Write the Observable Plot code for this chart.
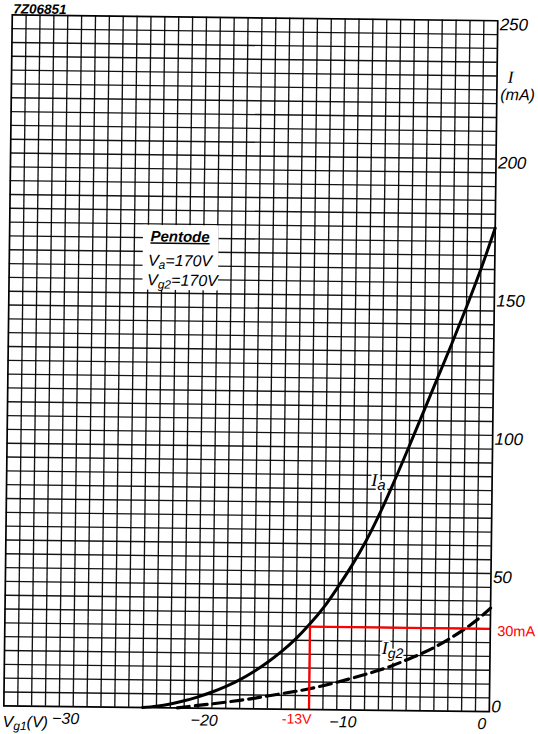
<!DOCTYPE html>
<html><head><meta charset="utf-8">
<script src="https://cdn.jsdelivr.net/npm/d3@7"></script>
<script src="https://cdn.jsdelivr.net/npm/@observablehq/plot@0.6"></script>
<style>
html,body{margin:0;padding:0;background:#fff;}
#chart svg{display:block;}
</style>
</head><body><div id="chart"></div>
<script>
// Anode current Ia (mA) vs grid-1 voltage Vg1 (V)
const vg1Ia = [-25,-24,-23,-22,-21,-20,-19,-18,-17,-16,-15,-14,-13,-12,-11,-10,-9,-8,-7,-6,-5,-4,-3,-2,-1,0];
const ia    = [0,0.55,1.4,2.6,4.1,5.9,8,10.5,13.5,17,21,25.6,31,37.2,44.6,52.6,61.6,72,83.6,95.8,108.3,120.8,133.3,146.3,160,175];
// Screen-grid current Ig2 (mA)
const vg1Ig2 = [-22.5,-21,-20,-19,-18,-17,-16,-15,-14,-13,-12,-11,-10,-9,-8,-7,-6,-5,-4,-3,-2,-1,0];
const ig2    = [0,1,1.6,2.3,3.0,3.8,4.7,5.6,6.5,7.5,8.7,10,11.4,12.9,14.5,16.3,18.4,20.6,23.1,26,29.3,33,37.5];
// axes
const xTicks = [-30,-20,-10,0];
const yTicks = [50,100,150,200,250];
const xDomain = [-35,0];
const yDomain = [0,250];
const gridV = d3.range(-34,0,1);
const gridI = d3.range(5,250,5);
// annotations
const chartId = ["7Z06851"];
const marker = [{v:-13, i:30}];
const curveLabels = [{t:"Ia", v:-8.19, i:83.1}, {t:"Ig2", v:-7.03, i:22.4}];
const legendBox = [{x1:-25.35, x2:-19.9, y1:151, y2:174.5}];
const legendTitle = [{t:"Pentode", v:-24.84, i:170.4}];
const legendLines = [{t:"Va=170V", v:-25.0, i:161.7}, {t:"Vg2=170V", v:-25.05, i:154.6}];
const unitLabels = [{t:"I", i:229.6}];
const unitLabels2 = [{t:"(mA)", i:223.2}];

const ia_rows = vg1Ia.map((v,k)=>({v, i: ia[k]}));
const ig2_rows = vg1Ig2.map((v,k)=>({v, i: ig2[k]}));
const RED = "#ff0000";
const SANS = "Liberation Sans, Arial, sans-serif";
const SERIF = "Liberation Serif, Times New Roman, serif";

const svg = Plot.plot({
  width: 538, height: 734,
  marginLeft: 7.5, marginRight: 45, marginTop: 17.5, marginBottom: 25.5,
  style: {fontFamily: SANS, background: "#fff", color: "#000", overflow: "visible"},
  x: {domain: xDomain},
  y: {domain: yDomain},
  marks: [
    Plot.gridX({ticks: gridV, stroke: "#000", strokeOpacity: 0.92, strokeWidth: 1.35}),
    Plot.gridY({ticks: gridI, stroke: "#000", strokeOpacity: 0.92, strokeWidth: 1.35}),
    Plot.rect(legendBox, {x1:"x1", x2:"x2", y1:"y1", y2:"y2", fill:"#fff"}),
    Plot.line(ia_rows, {x:"v", y:"i", stroke:"#000", strokeWidth:3, curve:"catmull-rom"}),
    Plot.line(ig2_rows, {x:"v", y:"i", stroke:"#000", strokeWidth:3.2, strokeDasharray:"12,6", curve:"catmull-rom"}),
    Plot.ruleX(marker, {x:"v", y1:0, y2:"i", stroke:RED, strokeWidth:2.3}),
    Plot.ruleY(marker, {y:"i", x1:"v", x2:0, stroke:RED, strokeWidth:2.3}),
    Plot.frame({stroke:"#000", strokeWidth:1.7}),
    Plot.axisX({ticks: xTicks, tickSize:0, tickPadding:6, fontSize:16, fontStyle:"italic", dx:-7.5, label:null,
      tickFormat: d => d === 0 ? "0" : "\u2212" + Math.abs(d)}),
    Plot.axisY({anchor:"right", ticks: yTicks, tickSize:0, tickPadding:2, fontSize:17, fontStyle:"italic", dy:4, label:null}),
    Plot.axisY({anchor:"right", ticks: [0], tickSize:0, tickPadding:2, fontSize:17, fontStyle:"italic", dy:-5, label:null}),
    Plot.text(unitLabels, {y:"i", text:"t", frameAnchor:"right", textAnchor:"middle", dx:13.5, fontSize:17, fontStyle:"italic", fontFamily: SERIF}),
    Plot.text(unitLabels2, {y:"i", text:"t", frameAnchor:"right", textAnchor:"start", dx:3.5, fontSize:16, fontStyle:"italic"}),
    Plot.text(["Vg1(V)"], {frameAnchor:"bottom-left", textAnchor:"start", lineAnchor:"middle", dx:-1, dy:16, fontSize:16, fontStyle:"italic"}),
    Plot.text(chartId, {frameAnchor:"top-left", textAnchor:"start", lineAnchor:"middle", dx:1, dy:-5.8, fontSize:13.5, fontStyle:"italic", fontWeight:"bold"}),
    Plot.text(legendTitle, {x:"v", y:"i", text:"t", textAnchor:"start", fontSize:15, fontStyle:"italic", fontWeight:"bold"}),
    Plot.text(legendLines, {x:"v", y:"i", text:"t", textAnchor:"start", fontSize:16, fontStyle:"italic"}),
    Plot.text(curveLabels, {x:"v", y:"i", text:"t", textAnchor:"middle", fontSize:17, stroke:"#fff", strokeWidth:4, fill:"#000"}),
    Plot.text(marker, {y:"i", text: d => d.i + "mA", frameAnchor:"right", textAnchor:"start", dx:7, dy:2.4, fontSize:14.5, fill:RED}),
    Plot.text(marker, {x:"v", text: d => d.v + "V", frameAnchor:"bottom", textAnchor:"middle", dx:-12.3, dy:14.2, fontSize:14, fill:RED})
  ]
});

// rich text: subscripts and serif "I"
const NS = "http://www.w3.org/2000/svg";
function rich(content, parts) {
  svg.querySelectorAll("text").forEach(t => {
    if (t.textContent !== content || t.querySelector("tspan")) return;
    t.textContent = "";
    parts.forEach(p => {
      const ts = document.createElementNS(NS, "tspan");
      ts.textContent = p.t;
      if (p.dy) ts.setAttribute("dy", p.dy);
      if (p.size) ts.setAttribute("font-size", p.size);
      if (p.family) ts.setAttribute("font-family", p.family);
      if (p.style) ts.setAttribute("font-style", p.style);
      t.appendChild(ts);
    });
  });
}
rich("Ia", [{t:"I", family:SERIF, style:"italic", size:18}, {t:"a", dy:4, size:15, style:"italic"}]);
rich("Ig2", [{t:"I", family:SERIF, style:"italic", size:18}, {t:"g2", dy:4, size:14, style:"italic"}]);
rich("Va=170V", [{t:"V"}, {t:"a", dy:3, size:12}, {t:"=170V", dy:-3}]);
rich("Vg2=170V", [{t:"V"}, {t:"g2", dy:3, size:12}, {t:"=170V", dy:-3}]);
rich("Vg1(V)", [{t:"V"}, {t:"g1", dy:3, size:12}, {t:"(V)", dy:-3}]);
svg.querySelectorAll("text").forEach(t => {
  if (t.textContent === "Pentode") t.setAttribute("text-decoration", "underline");
});

// the reference scan is turned slightly clockwise
svg.style.transformOrigin = "269px 367px";
svg.style.transform = "rotate(0.7deg)";
document.getElementById("chart").appendChild(svg);
</script>
</body></html>
